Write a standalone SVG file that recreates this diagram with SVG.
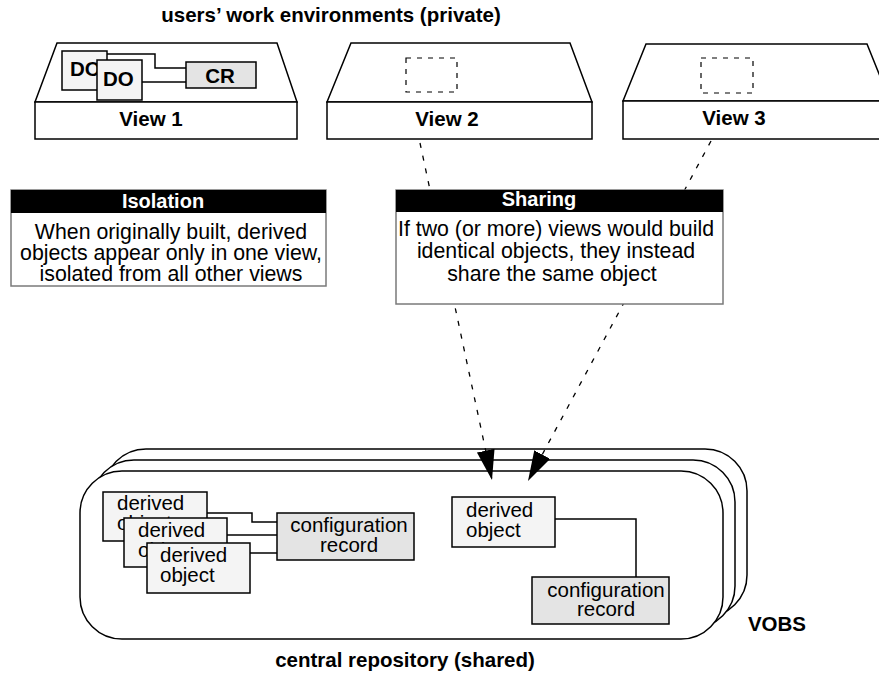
<svg xmlns="http://www.w3.org/2000/svg" width="879" height="675" viewBox="0 0 879 675">
<style>
.ln{fill:none;stroke:#000;stroke-width:1.5}
.sh{fill:#fff;stroke:#000;stroke-width:1.5}
.do{fill:#f4f4f4;stroke:#000;stroke-width:1.5}
.cr{fill:#e4e4e4;stroke:#000;stroke-width:1.5}
.note{fill:#fff;stroke:#7a7a7a;stroke-width:1.5}
.dash{fill:none;stroke:#000;stroke-width:1.3;stroke-dasharray:5 8}
.dd{fill:none;stroke:#000;stroke-width:1.2;stroke-dasharray:5 6}
.b{font-family:"Liberation Sans",Arial,sans-serif;font-weight:bold;font-size:20.5px;fill:#000}
.r{font-family:"Liberation Sans",Arial,sans-serif;font-size:20.5px;fill:#000}
.body{font-family:"Liberation Sans",Arial,sans-serif;font-size:21.3px;fill:#000;text-anchor:middle}
.hd{font-family:"Liberation Sans",Arial,sans-serif;font-weight:bold;font-size:20px;fill:#fff;text-anchor:middle}
.m{text-anchor:middle}
</style>
<defs>
<marker id="ah" markerUnits="userSpaceOnUse" markerWidth="32" markerHeight="20" refX="30" refY="9" orient="auto">
<path d="M0,0 L30,9 L0,18 Z" fill="#000"/>
</marker>
</defs>

<text class="b m" x="331" y="22">users’ work environments (private)</text>

<g id="vobs">
<rect class="sh" x="104" y="449" width="643" height="168" rx="42"/>
<rect class="sh" x="92" y="460" width="643" height="168" rx="42"/>
<rect class="sh" x="80" y="471" width="643" height="168" rx="42"/>
</g>
<text id="vobs-label" class="b m" x="777" y="631">VOBS</text>
<text id="central-label" class="b m" x="405" y="667">central repository (shared)</text>

<g id="view1">
<polygon class="sh" points="57,43 277,43 297,102 35,102"/>
<rect class="sh" x="35" y="102" width="262" height="37"/>
<text class="b m" x="151" y="126">View 1</text>
</g>

<g id="view2">
<polygon class="sh" points="351,43 570,43 592,102 327,102"/>
<rect class="sh" x="327" y="102" width="265" height="37"/>
<rect class="dd" x="406" y="58" width="51" height="34"/>
<text class="b m" x="447" y="126">View 2</text>
</g>

<g id="view3">
<polygon class="sh" points="646,44 867,44 890,101 623,101"/>
<rect class="sh" x="623" y="101" width="267" height="38"/>
<rect class="dd" x="701" y="58" width="52" height="35"/>
<text class="b m" x="734" y="125">View 3</text>
</g>

<g id="connectors">
<path class="dash" d="M420,143 L492,480" marker-end="url(#ah)"/>
<path class="dash" d="M711,141 L528,481" marker-end="url(#ah)"/>
<path class="ln" d="M107,54 H155 V68 H186"/>
<path class="ln" d="M142,82 H186"/>
<path class="ln" d="M207,513 H252 V522 H277"/>
<path class="ln" d="M227,535 H277"/>
<path class="ln" d="M250,553 H277"/>
<path class="ln" d="M555,519 H636 V577"/>
</g>

<g id="do1">
<rect class="do" x="62" y="51" width="45" height="39"/>
<text class="b" x="70" y="76">DO</text>
</g>
<g id="do2">
<rect class="do" x="97" y="60" width="45" height="40"/>
<text class="b" x="103" y="86">DO</text>
</g>
<g id="cr1">
<rect class="cr" x="186" y="62" width="70" height="26"/>
<text class="b m" x="220" y="83">CR</text>
</g>

<g id="isolation">
<rect class="note" x="11" y="190" width="315" height="96"/>
<rect x="11" y="190" width="315" height="23" fill="#000"/>
<text class="hd" x="163" y="208">Isolation</text>
<text class="body" x="171" y="239">When originally built, derived</text>
<text class="body" x="171" y="260">objects appear only in one view,</text>
<text class="body" x="171" y="281">isolated from all other views</text>
</g>

<g id="sharing">
<rect class="note" x="396" y="190" width="327" height="114"/>
<rect x="396" y="190" width="327" height="22" fill="#000"/>
<text class="hd" x="539" y="206">Sharing</text>
<text class="body" x="556" y="236">If two (or more) views would build</text>
<text class="body" x="556" y="258">identical objects, they instead</text>
<text class="body" x="552" y="281">share the same object</text>
</g>

<g id="dA">
<rect class="do" x="103" y="492" width="104" height="49"/>
<text class="r" x="117" y="510">derived</text>
<text class="r" x="117" y="530">object</text>
</g>
<g id="dB">
<rect class="do" x="124" y="518" width="103" height="49"/>
<text class="r" x="138" y="537">derived</text>
<text class="r" x="138" y="557">object</text>
</g>
<g id="dC">
<rect class="do" x="147" y="543" width="103" height="50"/>
<text class="r" x="160" y="562">derived</text>
<text class="r" x="160" y="582">object</text>
</g>
<g id="crL">
<rect class="cr" x="277" y="513" width="137" height="47"/>
<text class="r m" x="349" y="532">configuration</text>
<text class="r m" x="349" y="552">record</text>
</g>

<g id="dR">
<rect class="do" x="452" y="497" width="103" height="50"/>
<text class="r" x="466" y="517">derived</text>
<text class="r" x="466" y="537">object</text>
</g>
<g id="crR">
<rect class="cr" x="532" y="577" width="137" height="47"/>
<text class="r m" x="606" y="597">configuration</text>
<text class="r m" x="606" y="616">record</text>
</g>
</svg>
